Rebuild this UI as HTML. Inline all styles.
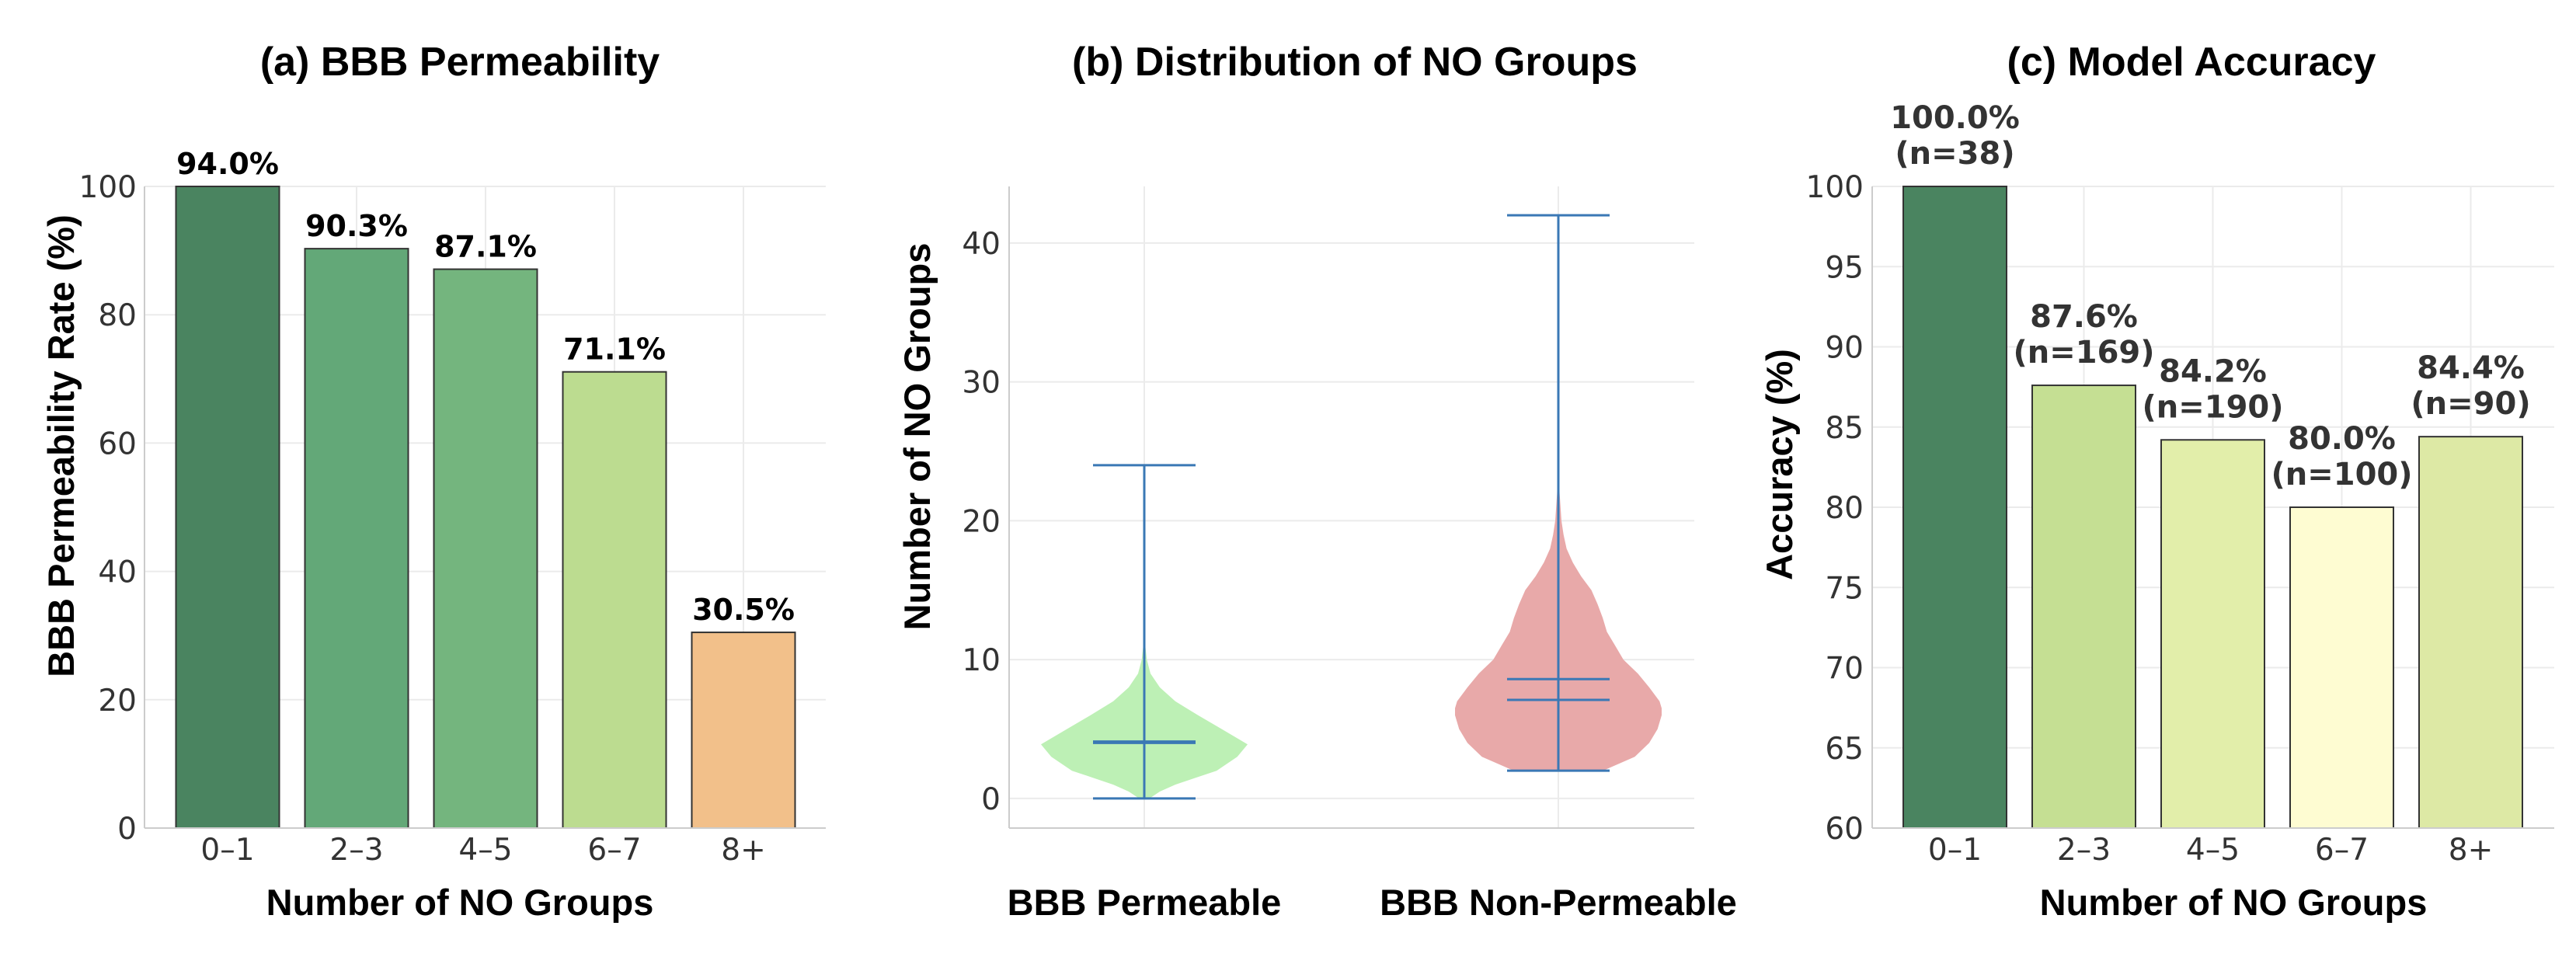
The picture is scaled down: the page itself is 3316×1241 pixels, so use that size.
<!DOCTYPE html>
<html><head><meta charset="utf-8">
<style>
html,body{margin:0;padding:0;background:#fff;}
svg{display:block;}
.tick{font-family:"DejaVu Sans","Liberation Sans",sans-serif;font-size:39px;fill:#333;}
.ttl{font-family:"Liberation Sans",sans-serif;font-weight:bold;font-size:52px;fill:#000;}
.axt{font-family:"Liberation Sans",sans-serif;font-weight:bold;font-size:47px;fill:#000;}
.val{font-family:"DejaVu Sans","Liberation Sans",sans-serif;font-weight:bold;font-size:38px;}
.valc{font-family:"DejaVu Sans","Liberation Sans",sans-serif;font-weight:bold;font-size:40px;}
</style></head>
<body>
<svg id="chart" width="3316" height="1241" viewBox="0 0 3316 1241" xmlns="http://www.w3.org/2000/svg">
<text class="ttl" x="592" y="97" text-anchor="middle">(a) BBB Permeability</text>
<text class="ttl" x="1744" y="97" text-anchor="middle">(b) Distribution of NO Groups</text>
<text class="ttl" x="2821" y="97" text-anchor="middle">(c) Model Accuracy</text>
<text class="axt" x="592" y="1178" text-anchor="middle">Number of NO Groups</text>
<text class="axt" transform="translate(95,574) rotate(-90)" text-anchor="middle">BBB Permeability Rate (%)</text>
<text class="axt" transform="translate(1197,562) rotate(-90)" text-anchor="middle">Number of NO Groups</text>
<text class="axt" x="2875" y="1178" text-anchor="middle">Number of NO Groups</text>
<text class="axt" transform="translate(2307,598) rotate(-90)" text-anchor="middle">Accuracy (%)</text>
<g id="pa"></g><g id="pb"></g><g id="pc"></g>
</svg>
<script>
// Panel (a) data
const catsA = ["0–1","2–3","4–5","6–7","8+"];
const valsA = [100, 90.3, 87.1, 71.1, 30.5];
const labelsA = ["94.0%","90.3%","87.1%","71.1%","30.5%"];
const colorsA = ["#4a8460","#63a878","#74b57e","#bcdc90","#f2c08a"];
const ticksA = [0,20,40,60,80,100];
// Panel (b) data
const catsB = ["BBB Permeable","BBB Non-Permeable"];
const ticksB = [0,10,20,30,40];
const minB = [0, 2];
const maxB = [24, 42];
const meanB = [4.1, 8.6];
const medianB = [4, 7.1];
const densYB = [0,0.5,1,1.5,2,3,3.9,5,6,7,8,9,10,11,12];
const densB1 = [0.05,0.15,0.3,0.5,0.7,0.9,1.0,0.75,0.52,0.3,0.15,0.06,0.025,0.01,0];
const densYB2 = [2,3,4,5,6,6.5,7,8,9,10,11,12,13,14,15,16,17,18,19,20,22,24,26];
const densB2 = [0.43,0.74,0.88,0.96,1.0,1.0,0.98,0.88,0.77,0.63,0.55,0.47,0.43,0.38,0.32,0.22,0.14,0.08,0.05,0.03,0.012,0.005,0];
const colorsB = ["#bdf0b5","#e8a9a9"];
// Panel (c) data
const catsC = ["0–1","2–3","4–5","6–7","8+"];
const valsC = [100, 87.6, 84.2, 80.0, 84.4];
const nC = [38, 169, 190, 100, 90];
const colorsC = ["#4a8460","#c5df93","#e2eeaa","#fefcd2","#dde9a5"];
const ticksC = [60,65,70,75,80,85,90,95,100];

const NS="http://www.w3.org/2000/svg";
function mk(parent,tag,attrs,text){const e=document.createElementNS(NS,tag);for(const k in attrs)e.setAttribute(k,attrs[k]);if(text!==undefined)e.textContent=text;parent.appendChild(e);return e;}
function hline(g,xa,xb,yy,w){return mk(g,'line',{x1:xa,x2:xb,y1:yy,y2:yy,stroke:'#3a78b5','stroke-width':w});}

// ---------- Panel A ----------
try{(function(){
const g=document.getElementById('pa');
const x0=186,x1=1063,yTop=240,yBot=1066,vMin=0,vMax=100;
const y=v=>yBot-(v-vMin)/(vMax-vMin)*(yBot-yTop);
const step=166,first=293,bw=133;
const x=i=>first+i*step;
ticksA.forEach(t=>{
 let l=mk(g,'line',{x1:x0,x2:x1,y1:y(t),y2:y(t),stroke:'#ebebeb','stroke-width':2});
 
 
 let tx=mk(g,'text',{class:'tick',x:176,y:y(t)+14,'text-anchor':'end'},String(t));
 
 
});
catsA.forEach((c,i)=>{
 let l=mk(g,'line',{x1:x(i),x2:x(i),y1:yTop,y2:yBot,stroke:'#ebebeb','stroke-width':2});
 
 
});
catsA.forEach((c,i)=>{
 let r=mk(g,'rect',{x:x(i)-bw/2,y:y(valsA[i]),width:bw,height:yBot-y(valsA[i]),fill:colorsA[i],stroke:'#333','stroke-width':2});
 
 
 let t=mk(g,'text',{class:'val',x:x(i),y:y(valsA[i])-16,'text-anchor':'middle',fill:'#000'},labelsA[i]);
 
 
 let tl=mk(g,'text',{class:'tick',x:x(i),y:1107,'text-anchor':'middle'},c);
 
 
});
let a1=mk(g,'line',{x1:x0,x2:x0,y1:yTop,y2:yBot,stroke:'#ccc','stroke-width':2});


let a2=mk(g,'line',{x1:x0,x2:x1,y1:yBot,y2:yBot,stroke:'#ccc','stroke-width':2});


})();}catch(e){}

// ---------- Panel B ----------
try{(function(){
const g=document.getElementById('pb');
const x0=1299,x1=2181,yTop=240,yBot=1066,vMin=-2.13,vMax=44.08;
const y=v=>yBot-(v-vMin)/(vMax-vMin)*(yBot-yTop);
const x=i=>1473+i*533;
const hw=133,cap=66;
ticksB.forEach(t=>{
 let l=mk(g,'line',{x1:x0,x2:x1,y1:y(t),y2:y(t),stroke:'#ebebeb','stroke-width':2});
 
 
 let tx=mk(g,'text',{class:'tick',x:1288,y:y(t)+14,'text-anchor':'end'},String(t));
 
 
});
catsB.forEach((c,i)=>{
 let l=mk(g,'line',{x1:x(i),x2:x(i),y1:yTop,y2:yBot,stroke:'#ebebeb','stroke-width':2});
 
 
});
const profiles=[[densYB,densB1],[densYB2,densB2]];
for(let i=0;i<catsB.length;i++){
 const ys=profiles[i][0],ds=profiles[i][1],cx=x(i);
 const right=ys.map((v,k)=>[cx+ds[k]*hw,y(v)]);
 const left=ys.map((v,k)=>[cx-ds[k]*hw,y(v)]).reverse();
 const pts=right.concat(left);
 const d='M'+pts.map(q=>q[0].toFixed(1)+','+q[1].toFixed(1)).join(' L')+' Z';
 let vp=mk(g,'path',{d:d,fill:colorsB[i],stroke:'none'});
 
 
 let wl=mk(g,'line',{x1:cx,x2:cx,y1:y(maxB[i]),y2:y(minB[i]),stroke:'#3a78b5','stroke-width':3});
 
 
 let h1=hline(g,cx-cap,cx+cap,y(maxB[i]),3);
 
 
 let h2=hline(g,cx-cap,cx+cap,y(minB[i]),3);
 
 
 let h3=hline(g,cx-cap,cx+cap,y(meanB[i]),3);
 
 
 let h4=hline(g,cx-cap,cx+cap,y(medianB[i]),3);
 
 
 let tl=mk(g,'text',{class:'axt',x:cx,y:1178,'text-anchor':'middle'},catsB[i]);
 
 
}
let a1=mk(g,'line',{x1:x0,x2:x0,y1:yTop,y2:yBot,stroke:'#ccc','stroke-width':2});


let a2=mk(g,'line',{x1:x0,x2:x1,y1:yBot,y2:yBot,stroke:'#ccc','stroke-width':2});


})();}catch(e){}

// ---------- Panel C ----------
try{(function(){
const g=document.getElementById('pc');
const x0=2410,x1=3288,yTop=240,yBot=1066,vMin=60,vMax=100;
const y=v=>yBot-(v-vMin)/(vMax-vMin)*(yBot-yTop);
const step=166,first=2516.5,bw=133;
const x=i=>first+i*step;
ticksC.forEach(t=>{
 let l=mk(g,'line',{x1:x0,x2:x1,y1:y(t),y2:y(t),stroke:'#ebebeb','stroke-width':2});
 
 
 let tx=mk(g,'text',{class:'tick',x:2399,y:y(t)+14,'text-anchor':'end'},String(t));
 
 
});
catsC.forEach((c,i)=>{
 let l=mk(g,'line',{x1:x(i),x2:x(i),y1:yTop,y2:yBot,stroke:'#ebebeb','stroke-width':2});
 
 
});
catsC.forEach((c,i)=>{
 let r=mk(g,'rect',{x:x(i)-bw/2,y:y(valsC[i]),width:bw,height:yBot-y(valsC[i]),fill:colorsC[i],stroke:'#333','stroke-width':2});
 
 
 let t1=mk(g,'text',{class:'valc',x:x(i),y:y(valsC[i])-75,'text-anchor':'middle',fill:'#333'},valsC[i].toFixed(1)+'%');
 
 
 let t2=mk(g,'text',{class:'valc',x:x(i),y:y(valsC[i])-29,'text-anchor':'middle',fill:'#333'},'(n='+nC[i]+')');
 
 
 let tl=mk(g,'text',{class:'tick',x:x(i),y:1107,'text-anchor':'middle'},c);
 
 
});
let a1=mk(g,'line',{x1:x0,x2:x0,y1:yTop,y2:yBot,stroke:'#ccc','stroke-width':2});


let a2=mk(g,'line',{x1:x0,x2:x1,y1:yBot,y2:yBot,stroke:'#ccc','stroke-width':2});


})();}catch(e){}
</script>
</body></html>
